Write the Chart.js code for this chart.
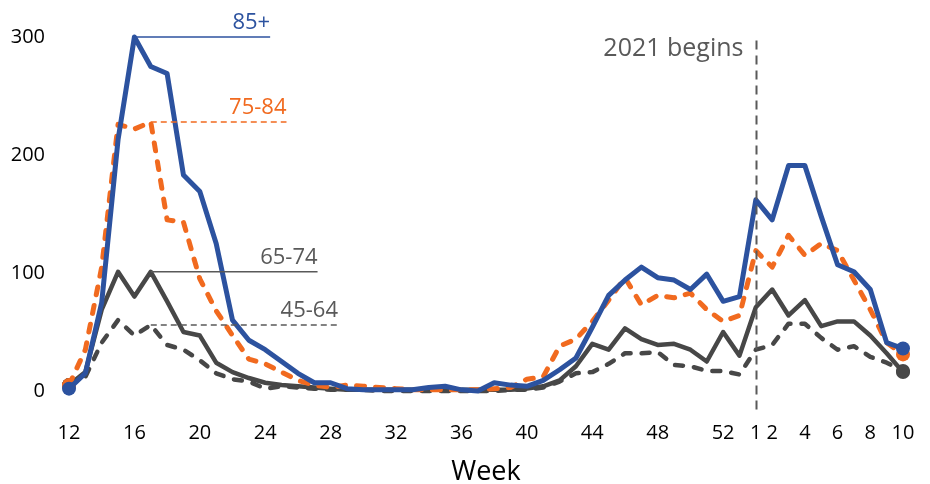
<!DOCTYPE html>
<html>
<head>
<meta charset="utf-8">
<script src="https://cdn.jsdelivr.net/npm/chart.js@4"></script>
<style>
  html, body { margin: 0; padding: 0; background: #fff; }
  #wrap { width: 930px; height: 484px; position: relative; }
</style>
</head>
<body>
<div id="wrap"><canvas id="c"></canvas></div>
<script>
// weeks: 2020 wk12..53, then 2021 wk1..10
const WEEKS = ['12','13','14','15','16','17','18','19','20','21','22','23','24','25','26','27','28','29','30','31','32','33','34','35','36','37','38','39','40','41','42','43','44','45','46','47','48','49','50','51','52','53',
  '1','2','3','4','5','6','7','8','9','10'];
const SHOWN = ['12','16','20','24','28','32','36','40','44','48','52','1','2','4','6','8','10'];
const Y_TICKS = [0, 100, 200, 300];

const AGE_85 = [2,15,75,213,300,275,269,183,169,125,60,43,35,25,15,7,7,2,1,1,1,1,3,4,1,0,7,5,4,9,18,28,54,81,94,105,96,94,86,99,76,80,
  162,145,191,191,148,107,101,86,41,36];
const AGE_75 = [5,35,105,226,222,228,145,143,95,68,47,27,23,16,9,5,3,5,4,3,2,1,1,1,1,1,2,3,10,12,38,44,59,77,96,73,81,79,83,69,59,64,
  119,105,132,115,125,119,94,69,41,31];
const AGE_65 = [5,16,69,101,80,101,76,50,47,24,16,11,7,5,4,3,2,1,1,1,1,1,1,1,1,1,1,1,2,4,9,21,40,35,53,44,39,40,35,25,50,30,
  71,86,64,77,55,59,59,47,32,16];
const AGE_45 = [5,12,41,60,47,56,39,35,26,15,10,8,2,4,3,2,1,1,1,0,0,0,0,0,0,0,0,1,1,3,8,15,16,23,32,32,33,22,21,17,17,14,
  35,39,57,57,45,35,38,29,24,17];

const BLUE = '#2c529f', ORANGE = '#f16a1f', GREY = '#474747', TXT_GREY = '#595959';
const FONT = '"Open Sans", "Noto Sans", sans-serif';

// series labels: text, colour, anchor week index, leader end (fractional index), dashed
const LABELS = [
  {text: '85+',   color: BLUE,     data: AGE_85, at: 4, end: 12.3,  dash: false},
  {text: '75-84', color: ORANGE,   data: AGE_75, at: 5, end: 13.3,  dash: true},
  {text: '65-74', color: TXT_GREY, data: AGE_65, at: 5, end: 15.2,  dash: false},
  {text: '45-64', color: TXT_GREY, data: AGE_45, at: 5, end: 16.45, dash: true},
];
const YEAR_IDX = WEEKS.indexOf('1', 30);

const ends = n => Array.from({length: n}, (_, i) => (i === 0 || i === n - 1) ? 7 : 0);

function ds(label, data, color, width, dash) {
  return {label, data, borderColor: color, backgroundColor: color, borderWidth: width,
    borderDash: dash || [], borderCapStyle: 'round', borderJoinStyle: 'round',
    pointRadius: ends(data.length), pointHoverRadius: 0, pointBorderWidth: 0,
    tension: 0, clip: false, fill: false};
}

const annot = {
  id: 'annot',
  afterDatasetsDraw(chart) {
    const {ctx, scales: {x, y}} = chart;
    ctx.save();
    // year divider
    const vx = Math.round(x.getPixelForValue(YEAR_IDX)) + 0.5;
    ctx.strokeStyle = TXT_GREY; ctx.lineWidth = 2; ctx.setLineDash([9, 6]);
    ctx.beginPath(); ctx.moveTo(vx, y.getPixelForValue(297)); ctx.lineTo(vx, y.getPixelForValue(-20)); ctx.stroke();
    ctx.setLineDash([]);
    ctx.fillStyle = TXT_GREY; ctx.font = '25px ' + FONT;
    ctx.textAlign = 'right'; ctx.textBaseline = 'middle';
    ctx.fillText('2021 begins', vx - 13, y.getPixelForValue(290));
    // series labels with leader lines
    LABELS.forEach(l => {
      const py = y.getPixelForValue(l.data[l.at]);
      const x0 = x.getPixelForValue(l.at), x1 = x.getPixelForValue(l.end);
      ctx.strokeStyle = l.color; ctx.lineWidth = 1.5;
      ctx.setLineDash(l.dash ? [6, 4] : []);
      ctx.beginPath(); ctx.moveTo(x0, py); ctx.lineTo(x1, py); ctx.stroke();
      ctx.setLineDash([]);
      ctx.fillStyle = l.color; ctx.font = '22px ' + FONT;
      ctx.textAlign = 'right'; ctx.textBaseline = 'alphabetic';
      ctx.fillText(l.text, x1, py - 8);
    });
    ctx.restore();
  }
};

new Chart(document.getElementById('c'), {
  type: 'line',
  data: {
    labels: WEEKS,
    datasets: [
      ds('85+', AGE_85, BLUE, 5),
      ds('75-84', AGE_75, ORANGE, 5, [8, 11]),
      ds('65-74', AGE_65, GREY, 4.5),
      ds('45-64', AGE_45, GREY, 4.5, [8, 11]),
    ]
  },
  options: {
    responsive: true, maintainAspectRatio: false, animation: false,
    layout: {padding: {left: 0, right: 27, top: 37, bottom: 0}},
    plugins: {legend: {display: false}, tooltip: {enabled: false}},
    scales: {
      x: {
        offset: false,
        grid: {display: false, drawTicks: false}, border: {display: false},
        ticks: {autoSkip: false, maxRotation: 0, padding: 30, color: '#000', font: {family: FONT, size: 20},
          callback(v, i) { return SHOWN.includes(WEEKS[i]) ? WEEKS[i] : ''; }},
        title: {display: true, text: 'Week', color: '#000', font: {family: FONT, size: 27}, padding: {top: 0, bottom: -5}},
        afterFit(s) { s.height = 93; s.paddingLeft = 0; s.paddingRight = 0; }
      },
      y: {
        min: 0, max: 300,
        grid: {display: false, drawTicks: false}, border: {display: false},
        afterBuildTicks(s) { s.ticks = Y_TICKS.map(v => ({value: v})); },
        ticks: {padding: 24, color: '#000', font: {family: FONT, size: 20}},
        afterFit(s) { s.width = 69; }
      }
    }
  },
  plugins: [annot]
});
</script>
</body>
</html>
